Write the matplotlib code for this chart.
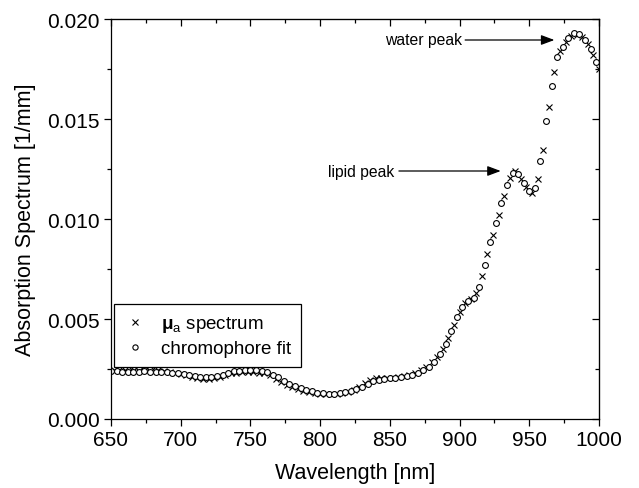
import numpy as np
import matplotlib
matplotlib.use('Agg')
import matplotlib.pyplot as plt
from matplotlib.ticker import MultipleLocator

plt.rcParams['font.family'] = ['Liberation Sans', 'DejaVu Sans']
plt.rcParams['mathtext.fontset'] = 'custom'
plt.rcParams['mathtext.rm'] = 'Liberation Sans'
plt.rcParams['mathtext.bf'] = 'Liberation Sans:bold'
plt.rcParams['mathtext.it'] = 'Liberation Sans:italic'

# chromophore fit (circles), every 4 nm
fit_wl = np.arange(650, 1000, 4)
fit_val = [
    0.00242, 0.00240, 0.00237, 0.00235, 0.00236, 0.00237, 0.00238, 0.00237,
    0.00236, 0.00234, 0.00233, 0.00231, 0.00228, 0.00224, 0.00218, 0.00213,
    0.00210, 0.00208, 0.00209, 0.00214, 0.00222, 0.00232, 0.00238, 0.00242,
    0.00244, 0.00245, 0.00245, 0.00242, 0.00236, 0.00222, 0.00208, 0.00192,
    0.00177, 0.00164, 0.00153, 0.00145, 0.00138, 0.00132, 0.00128, 0.00127,
    0.00127, 0.00129, 0.00133, 0.00139, 0.00148, 0.00160, 0.00176, 0.00190,
    0.00197, 0.00200, 0.00203, 0.00205, 0.00208, 0.00213, 0.00220, 0.00230,
    0.00243, 0.00260, 0.00285, 0.00325, 0.00375, 0.00440, 0.00512, 0.00560,
    0.00590, 0.00605, 0.00662, 0.00770, 0.00885, 0.00980, 0.01080, 0.01170,
    0.01228, 0.01225, 0.01180, 0.01140, 0.01155, 0.01290, 0.01490, 0.01665,
    0.01810, 0.01860, 0.01905, 0.01930, 0.01925, 0.01895, 0.01850, 0.01785,
]

# measured mu_a spectrum (crosses), every 4 nm offset by 2
spec_wl = np.arange(652, 1001, 4)
spec_val = [
    0.00245, 0.00244, 0.00246, 0.00250, 0.00254, 0.00257, 0.00255, 0.00250,
    0.00244, 0.00238, 0.00234, 0.00230, 0.00224, 0.00218, 0.00210, 0.00204,
    0.00200, 0.00200, 0.00204, 0.00212, 0.00222, 0.00228, 0.00231, 0.00233,
    0.00234, 0.00234, 0.00232, 0.00228, 0.00218, 0.00202, 0.00186, 0.00170,
    0.00158, 0.00148, 0.00140, 0.00133, 0.00128, 0.00125, 0.00124, 0.00125,
    0.00127, 0.00131, 0.00137, 0.00146, 0.00160, 0.00178, 0.00195, 0.00203,
    0.00205, 0.00206, 0.00207, 0.00209, 0.00214, 0.00221, 0.00231, 0.00244,
    0.00261, 0.00283, 0.00312, 0.00352, 0.00405, 0.00470, 0.00535, 0.00578,
    0.00600, 0.00630, 0.00715, 0.00825, 0.00920, 0.01020, 0.01115, 0.01205,
    0.01240, 0.01200, 0.01160, 0.01130, 0.01200, 0.01345, 0.01560, 0.01735,
    0.01840, 0.01885, 0.01915, 0.01922, 0.01910, 0.01875, 0.01820, 0.01750,
]

fig = plt.figure(figsize=(6.39, 4.89), dpi=100)
ax = fig.add_axes([111/639, 69/489, 488/639, 400/489])

ax.plot(spec_wl, spec_val, 'x', color='black', ms=4.2, mew=0.8,
        label=r'$\mathbf{μ}_{\mathrm{a}}$ spectrum')
ax.plot(fit_wl, fit_val, 'o', color='black', mfc='white', ms=4.2, mew=0.8,
        label='chromophore fit')

ax.set_xlim(650, 1000)
ax.set_ylim(0, 0.020)
ax.xaxis.set_major_locator(MultipleLocator(50))
ax.xaxis.set_minor_locator(MultipleLocator(25))
ax.yaxis.set_major_locator(MultipleLocator(0.005))
ax.yaxis.set_minor_locator(MultipleLocator(0.0025))
ax.yaxis.set_major_formatter(matplotlib.ticker.FormatStrFormatter('%.3f'))
ax.tick_params(which='both', direction='out', labelsize=15, width=0.9, pad=3)
ax.tick_params(which='major', length=5)
ax.tick_params(which='minor', length=3)
for s in ax.spines.values():
    s.set_linewidth(0.9)

# mirrored top/right ticks pointing inward
top = ax.secondary_xaxis('top')
top.xaxis.set_major_locator(MultipleLocator(50))
top.xaxis.set_minor_locator(MultipleLocator(25))
top.tick_params(which='both', direction='in', labeltop=False, width=0.9)
top.tick_params(which='major', length=5)
top.tick_params(which='minor', length=3)
right = ax.secondary_yaxis('right')
right.yaxis.set_major_locator(MultipleLocator(0.005))
right.yaxis.set_minor_locator(MultipleLocator(0.0025))
right.tick_params(which='both', direction='in', labelright=False, width=0.9)
right.tick_params(which='major', length=5)
right.tick_params(which='minor', length=3)

ax.set_xlabel('Wavelength [nm]', fontsize=15.5, labelpad=9)
ax.set_ylabel('Absorption Spectrum [1/mm]', fontsize=15.5, labelpad=8)

arrow = dict(arrowstyle='-|>,head_length=0.8,head_width=0.3', color='black',
             lw=0.9, shrinkA=0, shrinkB=0)
ax.text(901.5, 0.01895, 'water peak', fontsize=11.3, ha='right', va='center')
ax.annotate('', xy=(968, 0.01895), xytext=(904, 0.01895), arrowprops=arrow)
ax.text(853.5, 0.0124, 'lipid peak', fontsize=11.3, ha='right', va='center')
ax.annotate('', xy=(929.5, 0.0124), xytext=(856.5, 0.0124), arrowprops=arrow)

leg = ax.legend(loc='upper left', bbox_to_anchor=(0.006, 0.2875), borderaxespad=0,
                fontsize=13.5, fancybox=False, framealpha=1, edgecolor='black',
                handlelength=1.2, handletextpad=0.75, borderpad=0.55,
                labelspacing=0.3, markerscale=0.9)
leg.get_frame().set_linewidth(0.9)

fig.savefig('out.png', dpi=100)
